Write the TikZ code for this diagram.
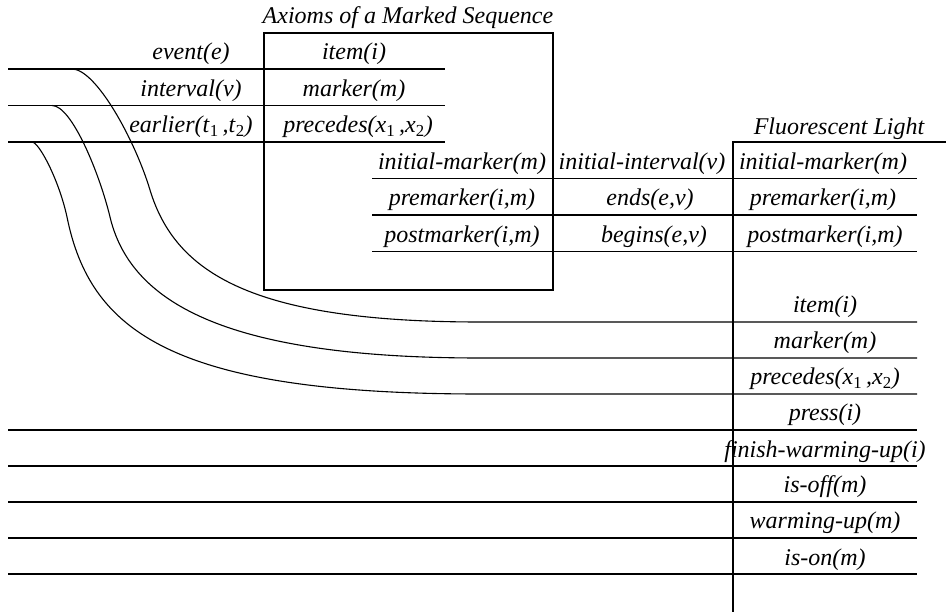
\documentclass[tikz,border=0pt]{standalone}
\usepackage{fontspec}
\setmainfont{Liberation Serif}
\newcommand{\mysub}[1]{\textsubscript{\upshape #1}}
\begin{document}
\begin{tikzpicture}[x=1pt,y=-1pt,
  rule/.style={line width=1.1pt},
  lbl/.style={font=\fontsize{24}{28}\selectfont\itshape, anchor=base, inner sep=0pt}]
\useasboundingbox (0,0) rectangle (946,612);

% upper-left rules
\draw[rule] (8,69) -- (445,69);
\draw[rule] (8,105.5) -- (445,105.5);
\draw[rule] (8,142) -- (445,142);
% middle rules
\draw[rule] (372,178.5) -- (917,178.5);
\draw[rule] (372,215) -- (917,215);
\draw[rule] (372,251.5) -- (917,251.5);
% axioms box
\draw[rule] (264,33) rectangle (553,290);
% fluorescent light frame
\draw[rule] (946,142) -- (733,142) -- (733,612);
% lower rules
\foreach \yy in {430,466,502,538,574} \draw[rule] (8,\yy) -- (917,\yy);

% curves continuing into the item / marker / precedes rules
\coordinate (c1s) at (72,69);   \coordinate (c1m) at (150,190); \coordinate (c1e) at (480,322); \coordinate (c1r) at (917,322);
\coordinate (c2s) at (52,105.5);\coordinate (c2m) at (110,217); \coordinate (c2e) at (480,358); \coordinate (c2r) at (917,358);
\coordinate (c3s) at (32,142);  \coordinate (c3m) at (67,217);  \coordinate (c3e) at (480,394); \coordinate (c3r) at (917,394);
\draw[rule] (c1s) .. controls (96,69) and (135,140) .. (c1m)
                  .. controls (175,272) and (250,322) .. (c1e) -- (c1r);
\draw[rule] (c2s) .. controls (72,105.5) and (100,175) .. (c2m)
                  .. controls (130,300) and (220,358) .. (c2e) -- (c2r);
\draw[rule] (c3s) .. controls (39,142) and (59,180) .. (c3m)
                  .. controls (90,330) and (170,394) .. (c3e) -- (c3r);

% titles
\node[lbl] (tA) at (408,24) {Axioms of a Marked Sequence};
\node[lbl] (tF) at (839,135) {Fluorescent Light};

% left column
\node[lbl] (l1) at (191,60) {event(e)};
\node[lbl] (l2) at (191,96.5) {interval(v)};
\node[lbl] (l3) at (191,133) {earlier(t\/\mysub{1}\,,t\/\mysub{2})};
% axioms column
\node[lbl] (a1) at (354,60) {item(i)};
\node[lbl] (a2) at (354,96.5) {marker(m)};
\node[lbl] (a3) at (358,133) {precedes(x\/\mysub{1}\,,x\/\mysub{2})};
\node[lbl] (a4) at (462,169.5) {initial-marker(m)};
\node[lbl] (a5) at (462,206) {premarker(i,m)};
\node[lbl] (a6) at (462,242.5) {postmarker(i,m)};
% interval column
\node[lbl] (b4) at (642,169.5) {initial-interval(v)};
\node[lbl] (b5) at (650,206) {ends(e,v)};
\node[lbl] (b6) at (654,242.5) {begins(e,v)};
% fluorescent column
\node[lbl] (f4) at (823,169.5) {initial-marker(m)};
\node[lbl] (f5) at (823,206) {premarker(i,m)};
\node[lbl] (f6) at (825,242.5) {postmarker(i,m)};
\node[lbl] (f7) at (825,313) {item(i)};
\node[lbl] (f8) at (825,349) {marker(m)};
\node[lbl] (f9) at (825,385) {precedes(x\/\mysub{1}\,,x\/\mysub{2})};
\node[lbl] (f10) at (825,421) {press(i)};
\node[lbl] (f11) at (825,457) {finish-warming-up(i)};
\node[lbl] (f12) at (825,493) {is-off(m)};
\node[lbl] (f13) at (825,529) {warming-up(m)};
\node[lbl] (f14) at (825,565) {is-on(m)};
\end{tikzpicture}
\end{document}
